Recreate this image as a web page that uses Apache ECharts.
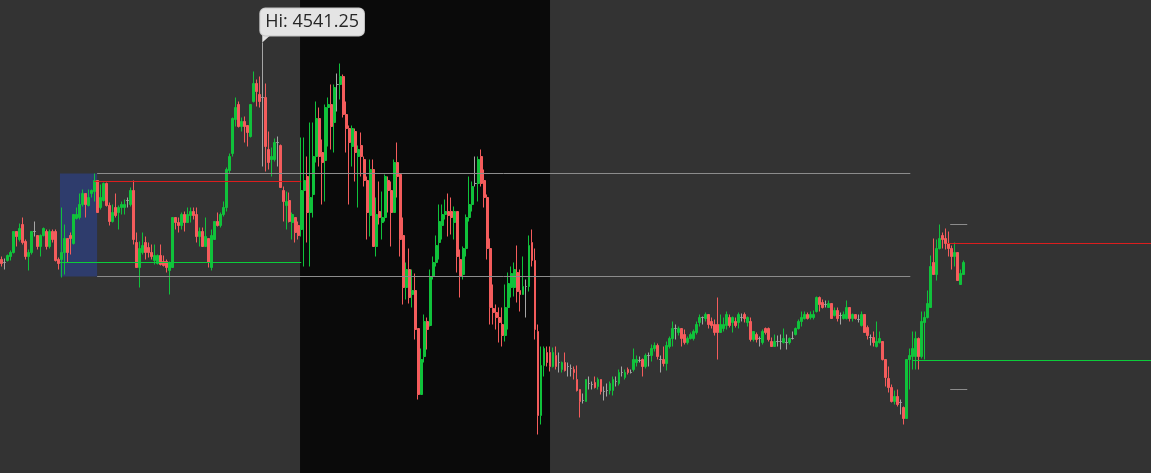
<!DOCTYPE html>
<html>
<head>
<meta charset="UTF-8">
<title>ES candles</title>
<script src="https://cdn.jsdelivr.net/npm/echarts@6/dist/echarts.min.js"></script>
<style>
  html, body { margin: 0; padding: 0; background: #333333; }
  #main { width: 1151px; height: 473px; }
</style>
</head>
<body>
<div id="main"></div>
<script>
// [open, close, low, high]
var bars = [
  [4487,4486,4485.25,4487.75],[4486.25,4486.25,4484.5,4487.25],[4486.75,4488,4486.5,4488.25],[4487.75,4488.75,4486.75,4489.25],
  [4488.75,4494,4488.5,4494],[4494,4492.75,4490.25,4494],[4492,4494.75,4491.5,4496],[4495.75,4491.25,4490.75,4497.5],
  [4491.5,4487.75,4487,4492],[4487.75,4488.75,4484.25,4489.5],[4488.75,4494,4488.25,4494],[4494,4494,4492.75,4496.5],
  [4493,4490.25,4489.5,4493],[4490.25,4493,4487.75,4493.25],[4493,4494.75,4492.75,4495],[4494,4490.25,4489.5,4494.5],
  [4490.25,4494,4489.75,4494.5],[4494,4492,4491.25,4494.5],[4494,4486.75,4486.5,4494.5],[4487,4486,4484.5,4487.5],
  [4487,4488.75,4482.5,4500],[4488.75,4492.25,4483.25,4495.75],[4492.25,4488.75,4486.25,4492.25],[4493,4492.25,4488.25,4493.75],
  [4491,4498.25,4490.75,4498.25],[4497.25,4498.25,4497,4500],[4497.5,4500.75,4497,4503.5],[4500.75,4503.5,4500.25,4504.5],
  [4503.5,4500.75,4497.5,4503.5],[4500.5,4502.5,4500.25,4504.5],[4503.5,4504.25,4502.5,4504.5],[4504,4506.75,4501.5,4508.5],
  [4506.75,4498.75,4498.75,4506.75],[4500,4502.5,4499.5,4505.75],[4501.75,4506,4501.5,4506.25],[4506,4500.5,4500.25,4506.25],
  [4500.5,4496.5,4495.5,4501.25],[4496.5,4498.75,4496.25,4500.75],[4500,4498,4497.5,4503.5],[4498.75,4500,4494.5,4500.5],
  [4500,4500.75,4498.25,4501.5],[4500,4500.75,4498.25,4502],[4501.75,4501.75,4500,4502.5],[4500.75,4504.25,4500.25,4505],
  [4504.25,4492,4490.75,4506.75],[4491.25,4485,4485,4493.75],[4485,4489.75,4480,4491.5],[4488.75,4490.5,4488.25,4493.75],
  [4491.25,4488.75,4487,4492.75],[4490,4488.75,4487.5,4491.25],[4488.75,4487.75,4487,4490.75],[4486.75,4488,4485.75,4490.75],
  [4486,4488,4485.75,4488.25],[4488,4485.75,4485.5,4490.75],[4486.5,4485.5,4485.25,4488],
  [4486.5,4485,4483.75,4487],[4484.25,4486.25,4478.25,4486.5],[4485,4497.5,4485,4497.5],[4497.5,4496.25,4494.5,4497.5],
  [4496.25,4495.5,4493.75,4497.5],[4495.5,4498.25,4494.5,4498.75],[4498.25,4496.25,4494,4499],[4496.25,4498.25,4496.25,4500],
  [4498,4499,4496.25,4500],[4499,4498,4497,4500],[4498.25,4492.75,4491.25,4500],[4492.75,4494,4490.25,4495],
  [4494,4490.25,4490.25,4495],[4490.25,4492.75,4490.25,4497.5],[4492.25,4486.25,4485,4492.25],[4485,4493,4484.25,4494.5],
  [4492,4496.5,4492,4496.5],[4496.5,4495.5,4495.25,4498.75],[4495.5,4498.25,4495,4498.75],[4498.25,4500,4497.75,4501.5],
  [4500,4509.5,4499,4510],[4509.25,4512.75,4508.5,4513.5],[4513.5,4522.25,4512.75,4522.5],[4522,4525,4520.25,4527.5],
  [4525.75,4520.25,4520,4526.5],[4520.25,4521.5,4519,4522.5],[4521.5,4520.25,4516.25,4522.75],[4520.5,4518.75,4515.25,4520.5],
  [4517.75,4525.75,4517.5,4525.75],[4526.5,4531,4526.25,4534],[4531,4529,4525.25,4532],[4528.25,4526.5,4525,4532.75],
  [4527.5,4527.5,4510.25,4541.25],[4527.5,4515.25,4509,4531],[4514.5,4511.25,4509.5,4519],[4512,4512.75,4507.75,4515],
  [4512,4516.25,4511.5,4517.25],[4516.25,4516.25,4510.25,4517.75],[4515.5,4505,4505,4515.75],[4504.25,4501.5,4496.5,4505.25],
  [4500.5,4501.5,4494.5,4504],[4501.75,4496.5,4496.25,4503.75],[4496.25,4498.25,4492,4498.75],[4497.5,4493.75,4491.25,4497.5],
  [4495.5,4493,4492,4496.5],
  [4494.5,4504.25,4492.75,4517.5],[4504.25,4506.75,4485.25,4517.5],[4507.75,4498.75,4491.25,4512.75],[4498.75,4502.5,4485.25,4521.25],
  [4503.25,4512.75,4497.5,4521.25],[4512.75,4522.25,4511.25,4526.5],[4522.25,4512.75,4510.25,4525],[4513.75,4511.25,4500.75,4517],
  [4511.75,4525,4501.5,4525.75],[4525,4525.75,4515.25,4527.5],
  [4525.75,4520.25,4514.5,4530.75],[4521.25,4530,4513.75,4530.75],[4530.75,4530.75,4524,4533.5],[4530.75,4532.75,4527,4536],
  [4532.75,4523.25,4522.5,4533.25],[4523.25,4519.75,4513.75,4526.5],[4519.75,4516.25,4500.75,4520.5],[4515.25,4519.75,4510.25,4520.5],
  [4519,4513.75,4506.5,4519.75],[4512.75,4514.5,4500,4515.5],[4515.5,4512.75,4507.75,4518.75],[4512,4506.75,4505.25,4512.75],
  [4506.75,4498.75,4492,4507.75],[4498,4509.5,4492.75,4512],[4509.5,4490.25,4490.25,4512],[4490.25,4498.25,4487.75,4502.5],
  [4499,4497.5,4495.75,4506.5],[4496.25,4497.5,4492,4504],[4497.5,4507.75,4496.5,4508.25],[4506.75,4504.25,4498.75,4507.75],
  [4504.25,4498.75,4490.25,4506.5],[4498.75,4511.25,4498.75,4512],[4511.25,4507.75,4502.5,4516.25],[4508.25,4492,4487.75,4508.25],
  [4493,4480,4475.75,4497.5],[4480,4484.5,4477,4486.25],[4484.5,4477.5,4476,4489.75],[4478.25,4479.25,4475,4484.5],
  [4479.25,4469.5,4467,4483.5],[4469.75,4453.25,4452,4469.75],[4453.25,4462,4453.25,4464.75],[4462.75,4471.5,4461.25,4473.25],
  [4471.5,4469.5,4464.5,4472.5],[4470.5,4482.75,4470.25,4484.5],[4482.75,4486.25,4482,4487.75],[4486.25,4490.5,4485.25,4493],
  [4491.25,4496.5,4487,4500.75],[4495.5,4498.25,4492,4500.75],[4498.25,4499,4497,4502],[4499,4498,4492.75,4503.5],
  [4499,4497.5,4493.25,4502.5],[4496.25,4499,4492,4500.25],[4499,4487.75,4483.75,4499],[4487,4482.75,4477.5,4489.5],
  [4483.25,4489.75,4482,4490.25],[4489.75,4497.5,4487.75,4498.25],[4497.5,4500.75,4496.5,4507.75],[4500.75,4505.25,4499,4506.5],
  [4506,4506,4505.25,4512.75],[4506,4512,4501.5,4512.75],[4512.75,4506,4505.25,4514.5],[4506.75,4502.5,4500,4509.5],
  [4502.5,4489.75,4487,4503.25],[4489.75,4475,4470.75,4492.25],[4474.75,4473.75,4470.75,4480.75],[4473.75,4472.5,4469.5,4475.75],
  [4472.5,4471.25,4466.25,4475],[4470.75,4468,4465.25,4475],[4468,4475,4466.5,4480.75],[4475,4481,4469.5,4483.75],
  [4480,4483.5,4477.5,4485.25],[4480,4484.5,4477.75,4486.25],[4483.75,4479,4476.25,4490.5],[4479.25,4478.25,4474,4484.5],
  [4478.25,4480.25,4478.25,4487.75],[4480.25,4480.25,4472.5,4482],[4480.25,4490.5,4479,4493],[4491.25,4486.75,4485.25,4494.5],
  [4486.75,4469.5,4467,4489.75],[4469,4448,4443.25,4470.75],[4448,4460.5,4445.75,4465.25],[4460.5,4464.75,4457.75,4465.25],
  [4463.75,4461.25,4460.25,4465.25],[4463.75,4460.25,4459,4465.25],[4460.25,4463.75,4460,4465],[4463,4460.25,4459.5,4465.25],
  [4461.25,4461.25,4458.75,4463.75],[4459.5,4461.25,4458.75,4461.5],[4461.25,4459.25,4459,4463.75],[4460.25,4460.25,4457.75,4461.25],
  [4459.75,4459.75,4457.75,4460.75],[4459.5,4458.75,4457,4460.25],[4457,4454.25,4454,4460.5],[4454.5,4451.5,4447.5,4454.5],
  [4451.75,4451.75,4451,4453.5],[4451.5,4457,4451.5,4457],[4456,4456,4454.5,4457.75],[4455.75,4455.75,4454.5,4456.5],
  [4456.25,4455,4454.75,4457.75],[4455.25,4457,4454.5,4457.5],[4457,4454,4453.25,4457],[4454,4454,4451.75,4455.25],
  [4454.25,4454.25,4452.75,4456],[4454.25,4456,4453.25,4456.5],[4454.25,4457,4453,4457.75],[4456.5,4456.5,4455.25,4457.75],
  [4456,4458.75,4455.5,4459.5],[4458.75,4458.75,4457.75,4460.25],[4457.5,4458.75,4457,4459.5],[4459.5,4458.75,4458.25,4460],
  [4458.75,4458.75,4458.5,4459.5],[4459.5,4462,4459,4464.75],[4461.25,4462,4460.25,4463],[4461.75,4461.75,4461.25,4462.75],
  [4462,4460.25,4457.75,4462.25],[4460.25,4463,4459.75,4463.5],[4463,4463,4460.25,4463.75],[4463,4464.75,4461.5,4465.75],
  [4464.75,4465.5,4464,4466.25],[4465.5,4462.75,4462,4466],
  [4462,4462,4458.75,4463],[4462,4461,4460.25,4465.25],[4461,4465.5,4459.25,4466.5],[4465.25,4467.25,4464.75,4467.75],
  [4467.25,4469.75,4465.25,4471.5],[4469.75,4469.75,4467,4470.75],[4468.75,4469.75,4468,4470.25],[4469.75,4467.25,4465.25,4469.75],
  [4468.25,4466.25,4465.75,4469.5],[4466.25,4467.25,4465.75,4467.75],[4467.25,4468.25,4467,4468.75],[4467.25,4469,4466.75,4469.5],
  [4468.75,4470.75,4468.25,4471.5],[4471.25,4472.5,4470.25,4473.25],[4472.5,4472.5,4470.75,4472.75],[4472.25,4473.25,4471.5,4473.75],
  [4473.25,4470.75,4469.75,4473.25],[4471.5,4470.5,4469.75,4472.5],[4470.75,4468.75,4468,4472],[4470.75,4468.75,4462,4477.5],
  [4468.75,4470.75,4468.75,4473.25],[4469.75,4470.75,4469,4472.5],[4470.5,4473.25,4469.5,4474],[4472.5,4470.5,4470,4473.25],
  [4471.25,4472.5,4468.75,4472.75],[4471.5,4470.5,4470,4472.5],[4471.25,4473.25,4469.75,4473.75],[4472.5,4472.5,4471.5,4473.5],
  [4473.25,4472.25,4471.25,4473.75],[4471.25,4472.5,4470.25,4472.75],[4471.5,4467,4466.5,4472.5],[4467,4469,4466.5,4469],
  [4468.25,4467,4466.25,4468.75],[4467.25,4467.25,4465.25,4467.75],[4466.25,4469,4465.75,4469.5],[4469.75,4468.75,4468.25,4470],
  [4469.75,4467,4466.5,4470],[4466.5,4465.25,4465.25,4467.5],[4465.25,4466.5,4465.25,4468.25],[4466.5,4466.5,4465.25,4468],
  [4466.5,4466.5,4464.5,4468.25],[4466.25,4467.25,4466,4469.75],[4466.25,4466.25,4464.5,4468.25],[4466.25,4467.25,4465.75,4467.5],
  [4467.25,4467.25,4467,4469],[4468.25,4469.75,4468,4470],[4469.75,4471.5,4469.5,4472],[4471.5,4472.5,4470.25,4474],
  [4472.25,4473.25,4472,4474],[4473.25,4472.25,4472,4473.75],[4472.5,4473.25,4472,4474],[4472.5,4473.25,4472,4474.25],
  [4474,4477.5,4473.75,4477.75],[4477.5,4475.75,4474,4477.75],[4476.25,4475,4474.75,4477],
  [4475.75,4475.75,4475,4476.75],[4475,4476,4475,4476.75],[4476,4472.25,4472.25,4476],[4473,4474.25,4472.75,4475],
  [4474.25,4472.25,4471.5,4475],[4473,4473,4470.75,4473.75],[4472.25,4473.25,4472,4474],[4472.25,4475,4472,4476.75],
  [4475,4472.25,4471.5,4475],[4472.25,4473.25,4471.5,4473.5],[4473.25,4472.25,4472,4473.25],[4472,4472,4471.25,4473.25],
  [4470.5,4473.25,4470.25,4474],[4473.25,4468.75,4468.75,4473.25],[4470,4468,4467,4470.5],[4467.5,4467.5,4465.5,4468.25],
  [4467.5,4466.25,4465.25,4469],[4465.25,4466.5,4465,4471.5],[4466.25,4467.25,4466,4469],[4466.5,4462,4461.75,4466.5],
  [4462,4457.5,4455.25,4462],[4457.25,4455,4453.75,4460.25],[4455,4451.5,4451.25,4455.75],[4451.5,4452.75,4450.75,4454.25],
  [4452.75,4450.75,4450.25,4454.5],[4451.25,4451.25,4448.25,4452],[4450,4447.25,4445.75,4450.25],[4447.25,4462,4447.25,4462],
  [4462,4463,4454.5,4464.75],[4462.75,4464.75,4459.5,4469],[4462.75,4467.25,4459.5,4469],[4467.25,4462.75,4459.5,4467.5],
  [4462.75,4471.5,4462.25,4474],[4471.25,4472.5,4462,4474],[4472.5,4476,4472.25,4479.25],[4475,4485.25,4475,4488],
  [4486.25,4483.25,4483.25,4492.25],[4483.25,4489.75,4481.75,4492],[4489.75,4492.25,4489.5,4495.75],[4493,4492,4489.75,4493.75],
  [4492.25,4491,4489.5,4494.75],[4491,4489.75,4487.75,4494],[4489.75,4487.75,4484.5,4490.5],[4487.75,4488.75,4485.25,4491.25],
  [4488.75,4481.75,4481.75,4488.75],[4480.75,4483.5,4480.75,4484.5],[4483.25,4486.25,4483.25,4486.75]
];

// slots on the x axis (visible bars + empty space on the right)
var slotCount = 384;
var priceMin = 4433.625, priceMax = 4551.875;

// level lines: [fromBar, toBar, price]
var greyLevels = [[31.9, 303.2, 4508.5], [31.9, 303.2, 4482.75], [316.5, 322.2, 4495.75], [316.5, 322.2, 4454.5]];
var redLevels = [[31, 100, 4506.5], [315.5, 383.5, 4491]];
var greenLevels = [[19.5, 100, 4486.25], [303.8, 383.5, 4461.75]];

// shaded zones: [fromBar, toBar, lowPrice, highPrice]
var sessionZone = [99.6, 183, priceMin, priceMax];
var openRange = [19.5, 31.9, 4482.75, 4508.5];

var hiBar = 87, hiValue = 4541.25;

var slots = [];
for (var i = 0; i < slotCount; i++) slots.push(i);

var chart = echarts.init(document.getElementById('main'));

function zoneSeries(zone, color, z) {
  return {
    type: 'line', xAxisIndex: 1, z: z, silent: true,
    data: [[zone[0], zone[2]], [zone[1], zone[3]]],
    symbol: 'none', lineStyle: { opacity: 0 },
    markArea: {
      silent: true,
      itemStyle: { color: color },
      data: [[{ coord: [zone[0], zone[2]] }, { coord: [zone[1], zone[3]] }]]
    }
  };
}

// every level line as a markLine segment of one helper series
var segs = [];
function addLevels(list, color) {
  list.forEach(function (l) {
    segs.push([
      { coord: [l[0], l[2]], lineStyle: { color: color, width: 1, type: 'solid', opacity: 1 } },
      { coord: [l[1], l[2]] }
    ]);
  });
}
addLevels(greyLevels, '#8c8c8c');
addLevels(redLevels, '#dc1e1e');
addLevels(greenLevels, '#0ccc3a');

var series = [];
series.push(zoneSeries(sessionZone, '#0a0a0a', 1));
series.push({
  type: 'candlestick',
  xAxisIndex: 0,
  z: 2,
  data: bars,
  barWidth: 2.4,
  itemStyle: {
    color: '#10c23b', color0: '#f45c5c',
    borderColor: '#10c23b', borderColor0: '#f45c5c',
    borderColorDoji: '#a6a6a6',
    borderWidth: 1
  }
});
series.push(zoneSeries(openRange, 'rgba(44,64,130,0.72)', 3));
series.push({
  type: 'line', xAxisIndex: 1, z: 4, silent: true,
  data: [], symbol: 'none',
  markLine: {
    silent: true,
    symbol: ['none', 'none'],
    label: { show: false },
    emphasis: { disabled: true },
    data: segs
  }
});

series.push({
  type: 'scatter', xAxisIndex: 1, z: 6, silent: true,
  data: [[hiBar, hiValue]],
  symbol: 'path://M0,0 L9,0 L0,8 Z',
  symbolSize: [9, 8],
  symbolOffset: [4.5, -4],
  itemStyle: { color: '#e4e4e4', opacity: 1 },
  label: {
    show: true,
    position: [-2, 1],
    align: 'left',
    verticalAlign: 'bottom',
    formatter: 'Hi: ' + hiValue.toFixed(2),
    fontFamily: '"Open Sans", sans-serif',
    fontSize: 18,
    lineHeight: 21,
    color: '#262626',
    backgroundColor: '#e4e4e4',
    borderColor: '#c4c4c4',
    borderWidth: 1,
    borderRadius: 5,
    padding: [3, 5, 3, 5]
  }
});

chart.setOption({
  animation: false,
  backgroundColor: '#333333',
  grid: { left: 0, right: 0, top: 0, bottom: 0 },
  xAxis: [
    { type: 'category', data: slots, boundaryGap: true, show: false },
    { type: 'value', min: -0.5, max: slotCount - 0.5, show: false }
  ],
  yAxis: { type: 'value', min: priceMin, max: priceMax, show: false, splitLine: { show: false } },
  series: series
});
</script>
</body>
</html>
